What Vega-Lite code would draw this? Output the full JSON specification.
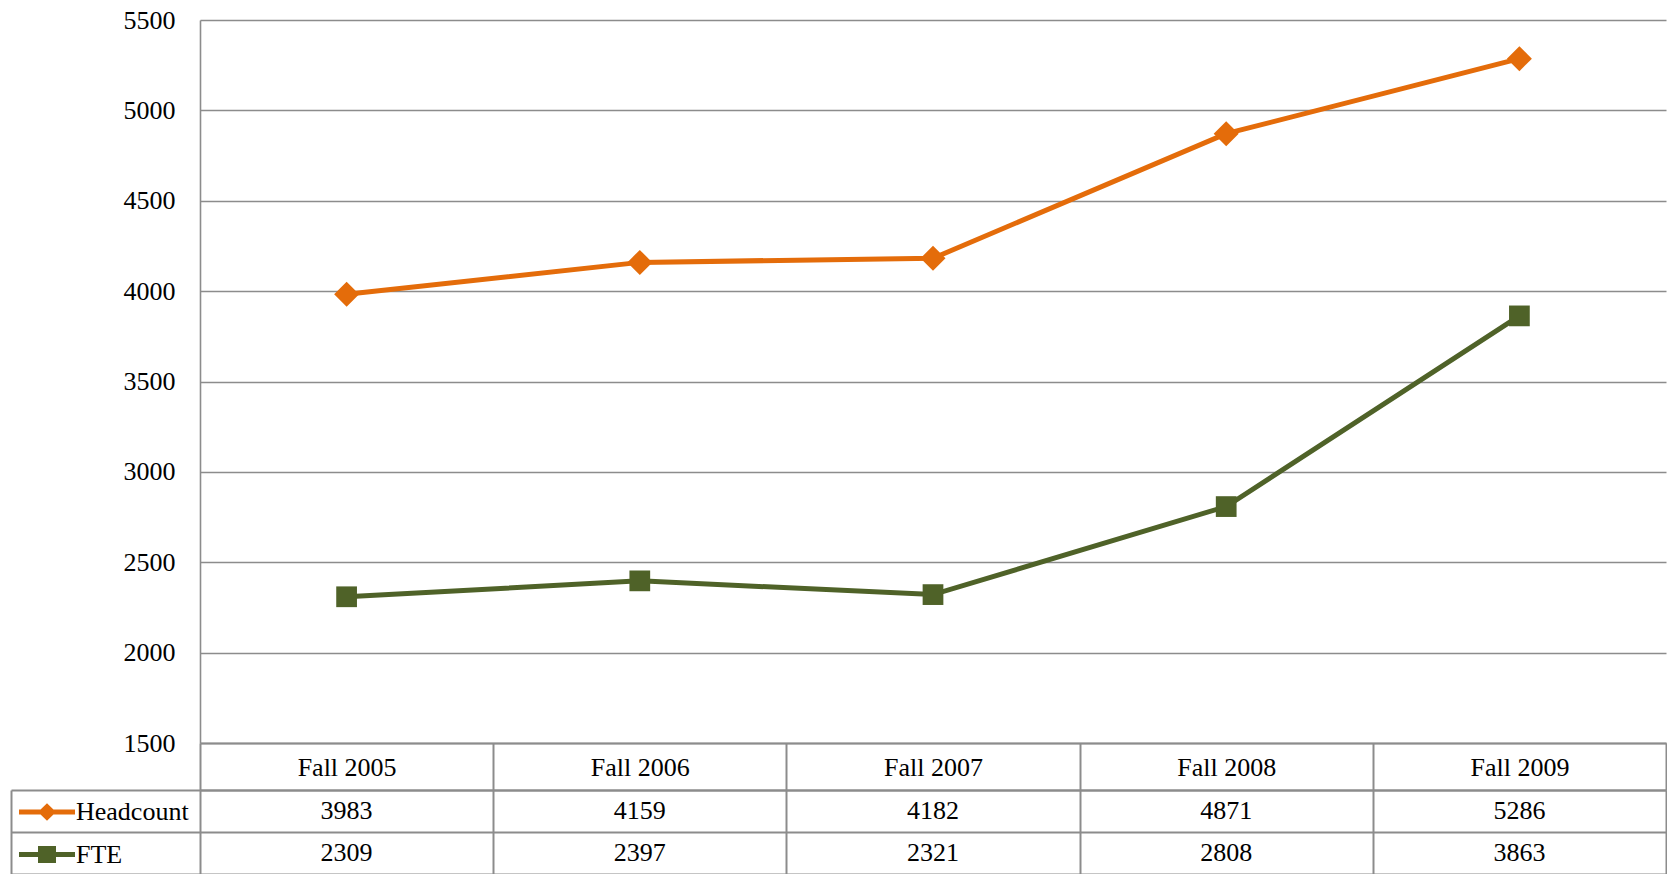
{
  "$schema": "https://vega.github.io/schema/vega-lite/v6.json",
  "padding": {"left": 10, "top": 7, "right": 0, "bottom": 0},
  "background": "white",
  "datasets": {
    "enrollment": [
      {"period": "Fall 2005", "series": "Headcount", "value": 3983},
      {"period": "Fall 2006", "series": "Headcount", "value": 4159},
      {"period": "Fall 2007", "series": "Headcount", "value": 4182},
      {"period": "Fall 2008", "series": "Headcount", "value": 4871},
      {"period": "Fall 2009", "series": "Headcount", "value": 5286},
      {"period": "Fall 2005", "series": "FTE", "value": 2309},
      {"period": "Fall 2006", "series": "FTE", "value": 2397},
      {"period": "Fall 2007", "series": "FTE", "value": 2321},
      {"period": "Fall 2008", "series": "FTE", "value": 2808},
      {"period": "Fall 2009", "series": "FTE", "value": 3863}
    ]
  },
  "data": {"name": "enrollment"},
  "bounds": "flush",
  "spacing": 47,
  "resolve": {
    "scale": {"x": "independent", "y": "independent", "color": "independent"},
    "axis": {"x": "independent", "y": "independent"},
    "legend": {"color": "independent"}
  },
  "config": {
    "view": {"stroke": null},
    "font": "Liberation Serif",
    "axis": {
      "labelFont": "Liberation Serif",
      "labelFontSize": 26,
      "labelColor": "#000000",
      "domainColor": "#8c8c8c",
      "gridColor": "#8c8c8c",
      "tickColor": "#8c8c8c",
      "domainWidth": 2,
      "gridWidth": 2,
      "tickWidth": 2,
      "title": null
    }
  },
  "vconcat": [
    {
      "width": 1466,
      "height": 723,
      "encoding": {
        "x": {
          "field": "period",
          "type": "nominal",
          "bandPosition": 0.5,
          "scale": {"type": "band", "paddingInner": 0, "paddingOuter": 0},
          "axis": {
            "orient": "bottom",
            "title": null,
            "domain": true,
            "ticks": true,
            "tickBand": "extent",
            "tickSize": 47,
            "labelPadding": -23,
            "labelBaseline": "middle",
            "labelAngle": 0,
            "grid": false
          }
        },
        "y": {
          "field": "value",
          "type": "quantitative",
          "scale": {"domain": [1500, 5500], "nice": false, "zero": false},
          "axis": {
            "title": null,
            "format": "d",
            "values": [1500, 2000, 2500, 3000, 3500, 4000, 4500, 5000, 5500],
            "ticks": false,
            "domain": true,
            "grid": true,
            "gridWidth": 1.6,
            "domainWidth": 1.6,
            "labelPadding": 25
          }
        },
        "color": {
          "field": "series",
          "type": "nominal",
          "scale": {"domain": ["Headcount", "FTE"], "range": ["#E46C0A", "#4F6228"]},
          "legend": {
            "orient": "none",
            "legendX": -166,
            "legendY": 779,
            "direction": "vertical",
            "title": null,
            "padding": 0,
            "symbolSize": 100,
            "labelOffset": 16,
            "rowPadding": 16.6,
            "labelFont": "Liberation Serif",
            "labelFontSize": 26,
            "labelColor": "#000000",
            "encode": {
              "symbols": {
                "update": {
                  "shape": {"signal": "datum.value === 'Headcount' ? 'M-5.6,-0.5H5.6V0.5H-5.6Z M0,-1.75L1.8,0L0,1.75L-1.8,0Z' : 'M-5.6,-0.5H5.6V0.5H-5.6Z M-1.8,-1.7H1.8V1.7H-1.8Z'"},
                  "fill": {"scale": "color", "field": "value"},
                  "stroke": {"value": "transparent"},
                  "strokeWidth": {"value": 0},
                  "opacity": {"value": 1}
                }
              }
            }
          }
        }
      },
      "layer": [
        {"mark": {"type": "line", "strokeWidth": 5}},
        {
          "transform": [{"filter": "datum.series === 'Headcount'"}],
          "mark": {"type": "point", "shape": "diamond", "size": 625, "filled": true, "opacity": 1}
        },
        {
          "transform": [{"filter": "datum.series === 'FTE'"}],
          "mark": {"type": "point", "shape": "square", "size": 430, "filled": true, "opacity": 1}
        }
      ]
    },
    {
      "width": 1466,
      "height": 84,
      "mark": {"type": "text", "font": "Liberation Serif", "fontSize": 26, "color": "#000000", "baseline": "middle", "align": "center"},
      "encoding": {
        "x": {
          "field": "period",
          "type": "nominal",
          "scale": {"type": "band", "paddingInner": 0, "paddingOuter": 0},
          "axis": {
            "orient": "top",
            "title": null,
            "labels": false,
            "ticks": false,
            "domain": true,
            "grid": true,
            "tickBand": "extent"
          }
        },
        "y": {
          "field": "series",
          "type": "nominal",
          "scale": {"type": "band", "domain": ["Headcount", "FTE"], "paddingInner": 0, "paddingOuter": 0},
          "axis": {
            "title": null,
            "labels": false,
            "offset": 189,
            "ticks": true,
            "tickSize": -189,
            "tickBand": "extent",
            "grid": true,
            "domain": true
          }
        },
        "text": {"field": "value", "type": "quantitative", "format": "d"}
      }
    }
  ]
}
